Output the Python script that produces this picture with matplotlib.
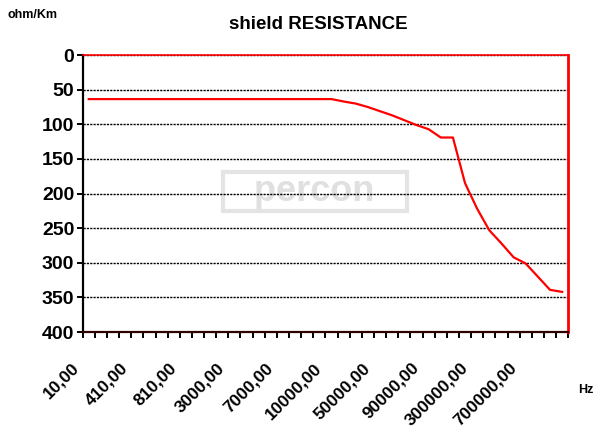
import numpy as np
import matplotlib.pyplot as plt
import matplotlib.transforms as mtransforms

plt.rcParams['font.family'] = ['Liberation Sans', 'DejaVu Sans']
plt.rcParams['font.weight'] = 'bold'

# frequency categories (Hz) and shield resistance (ohm/Km)
freqs = [10, 110, 210, 310, 410, 510, 610, 710, 810, 910,
         1000, 2000, 3000, 4000, 5000, 6000, 7000, 8000, 9000, 9500,
         10000, 20000, 30000, 40000, 50000, 60000, 70000, 80000, 90000, 95000,
         100000, 200000, 300000, 400000, 500000, 600000, 700000, 800000, 900000, 1000000]
resistance = [63.5] * 21 + [67, 70, 75, 81, 87, 94, 101, 107, 119, 119,
                            185, 222, 253, 272, 292, 301, 320, 339, 342]
freq_labels = [f"{f},00" for f in freqs]
y_ticks = [0, 50, 100, 150, 200, 250, 300, 350, 400]

fig = plt.figure(figsize=(5.95, 4.41), dpi=100)
ax = fig.add_axes([0.139, 0.247, 0.816, 0.628])

x = np.arange(len(freqs))
ax.plot(x, resistance, color='#ff0000', lw=1.6, zorder=3)

ax.set_xlim(-0.5, len(freqs) - 0.5)
ax.set_ylim(400, 0)

# grid
for yv in y_ticks[:-1]:
    ax.axhline(yv, color='black', lw=1.0, ls=(0, (1.6, 0.8)), zorder=1)

# spines
ax.spines['left'].set_color('black')
ax.spines['left'].set_linewidth(1.6)
ax.spines['bottom'].set_color('#300000')
ax.spines['bottom'].set_linewidth(1.6)
ax.spines['top'].set_color('#ff0000')
ax.spines['top'].set_linewidth(1.2)
ax.spines['right'].set_color('#ff0000')
ax.spines['right'].set_linewidth(2)
ax.spines['top'].set_zorder(4)

ax.set_yticks(y_ticks)
ax.set_yticklabels([str(v) for v in y_ticks], fontsize=14, fontweight='bold')
ax.tick_params(axis='y', length=4, width=1.4, direction='out', pad=2)

# category boundary ticks, labels every 4th category
ax.set_xticks(np.arange(-0.5, len(freqs), 1.0))
ax.set_xticklabels([])
ax.tick_params(axis='x', which='major', length=4, width=1.4, direction='out')
ax.set_xticks(x[::4], minor=True)
ax.set_xticklabels(freq_labels[::4], minor=True, rotation=45, ha='right',
                   va='center', rotation_mode='anchor', fontsize=12.5, fontweight='bold')
ax.tick_params(axis='x', which='minor', length=0, pad=24)
offset = mtransforms.ScaledTranslation(-12 / 100, 0, fig.dpi_scale_trans)
for lab in ax.xaxis.get_minorticklabels():
    lab.set_transform(lab.get_transform() + offset)

# watermark
ax.text(18.6, 197, '   percon   ', ha='center', va='center', fontsize=26, fontweight='bold',
        color='#e0e0e0', zorder=0,
        bbox=dict(boxstyle='square,pad=0.05', facecolor='none', edgecolor='#e4e4e4', lw=3))

fig.text(0.535, 0.945, 'shield RESISTANCE', ha='center', va='center', fontsize=13.5, fontweight='bold')
fig.text(0.013, 0.967, 'ohm/Km', ha='left', va='center', fontsize=9, fontweight='bold')
fig.text(0.998, 0.115, 'Hz', ha='right', va='center', fontsize=9, fontweight='bold')

fig.savefig('out.png', dpi=100)
